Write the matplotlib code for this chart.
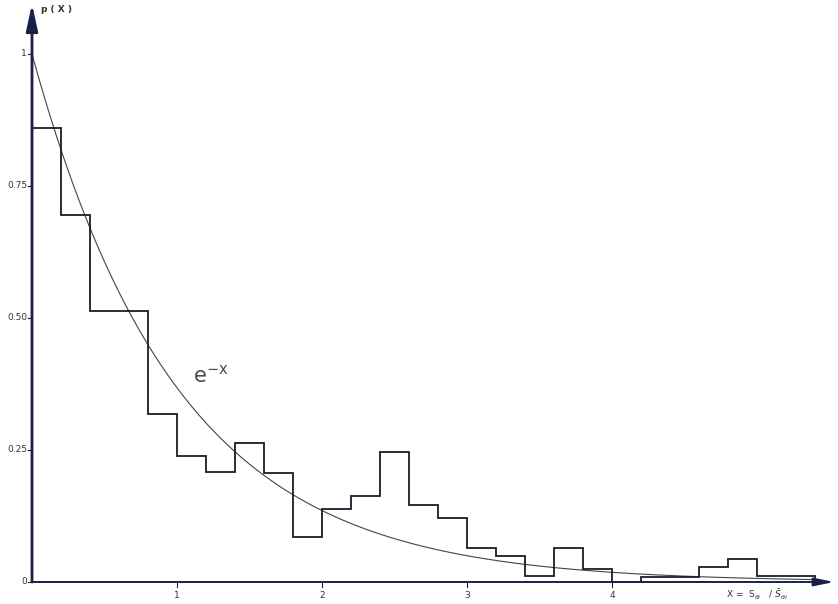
import numpy as np
import matplotlib
matplotlib.use("Agg")
import matplotlib.pyplot as plt

# Histogram of the normalised spacing x = S / S_mean, with exponential reference
bin_edges = [0.0, 0.2, 0.4, 0.6, 0.8, 1.0, 1.2, 1.4, 1.6, 1.8, 2.0, 2.2, 2.4,
             2.6, 2.8, 3.0, 3.2, 3.4, 3.6, 3.8, 4.0, 4.2, 4.4, 4.6, 4.8, 5.0,
             5.2, 5.4]
frequencies = [0.86, 0.695, 0.513, 0.513, 0.318, 0.239, 0.208, 0.263, 0.206,
               0.085, 0.138, 0.163, 0.246, 0.146, 0.121, 0.065, 0.05, 0.012,
               0.065, 0.025, 0.0, 0.01, 0.01, 0.028, 0.043, 0.012, 0.012]
y_ticks = [0, 0.25, 0.5, 0.75, 1.0]
y_tick_labels = ["0", "0.25", "0.50", "0.75", "1"]
x_ticks = [1, 2, 3, 4]
x_tick_labels = ["1", "2", "3", "4"]

W, H = 838, 604
fig = plt.figure(figsize=(W / 100, H / 100), dpi=100)
x0_px, y0_px = 32, 582
px_per_x, px_per_y = 145.0, 528.0
ax = fig.add_axes([0, 0, 1, 1])
ax.set_xlim(-x0_px / px_per_x, (W - x0_px) / px_per_x)
ax.set_ylim(-(H - y0_px) / px_per_y, y0_px / px_per_y)
ax.axis("off")

ink = "#1c1c2a"
axis_col = "#1a1f4a"

# step histogram
xs = np.repeat(bin_edges, 2)[1:-1]
ys = np.repeat(frequencies, 2)
xs = np.concatenate([[bin_edges[0]], xs, [bin_edges[-1]]])
ys = np.concatenate([[0], ys, [0]])
ax.plot(xs, ys, color=ink, lw=1.3, solid_joinstyle="miter", zorder=3)

# exponential curve
xc = np.linspace(0, 5.4, 400)
ax.plot(xc, np.exp(-xc), color="#3a4a44", lw=0.8, zorder=2)
ax.text((193 - x0_px) / px_per_x, (y0_px - 386) / px_per_y,
        r"$\mathregular{e^{-x}}$", fontsize=15, color="#4a4a4a",
        ha="left", va="bottom")

# axes with arrowheads
ymax = y0_px / px_per_y - 4 / px_per_y
xmax = (W - x0_px - 4) / px_per_x
ax.annotate("", xy=(0, ymax), xytext=(0, 0),
            arrowprops=dict(arrowstyle="-|>,head_length=1.6,head_width=0.35",
                            color=axis_col, lw=2.0, shrinkA=0, shrinkB=0),
            zorder=4)
ax.annotate("", xy=(xmax, 0), xytext=(0, 0),
            arrowprops=dict(arrowstyle="-|>,head_length=1.2,head_width=0.25",
                            color=axis_col, lw=1.4, shrinkA=0, shrinkB=0),
            zorder=4)

# ticks and labels
tick_font = dict(fontsize=6.5, color="#333333", family="DejaVu Sans")
for v, lab in zip(y_ticks, y_tick_labels):
    ax.plot([-4 / px_per_x, 0], [v, v], color=ink, lw=0.8)
    ax.text(-5 / px_per_x, v, lab, ha="right", va="center", **tick_font)
for v, lab in zip(x_ticks, x_tick_labels):
    ax.plot([v, v], [0, -5 / px_per_y], color=ink, lw=0.8)
    ax.text(v, -9 / px_per_y, lab, ha="center", va="top", **tick_font)

ax.text(9 / px_per_x, (y0_px - 9) / px_per_y, "p ( X )", ha="left",
        va="center", fontsize=6.5, fontweight="bold", color="#333333")
ax.text((726 - x0_px) / px_per_x, -(595 - y0_px) / px_per_y,
        r"X =  S$_{\theta i}$   / $\bar{S}_{\theta i}$",
        ha="left", va="center", fontsize=6.5, color="#333333")

fig.savefig("out.png", dpi=100, facecolor="white")
